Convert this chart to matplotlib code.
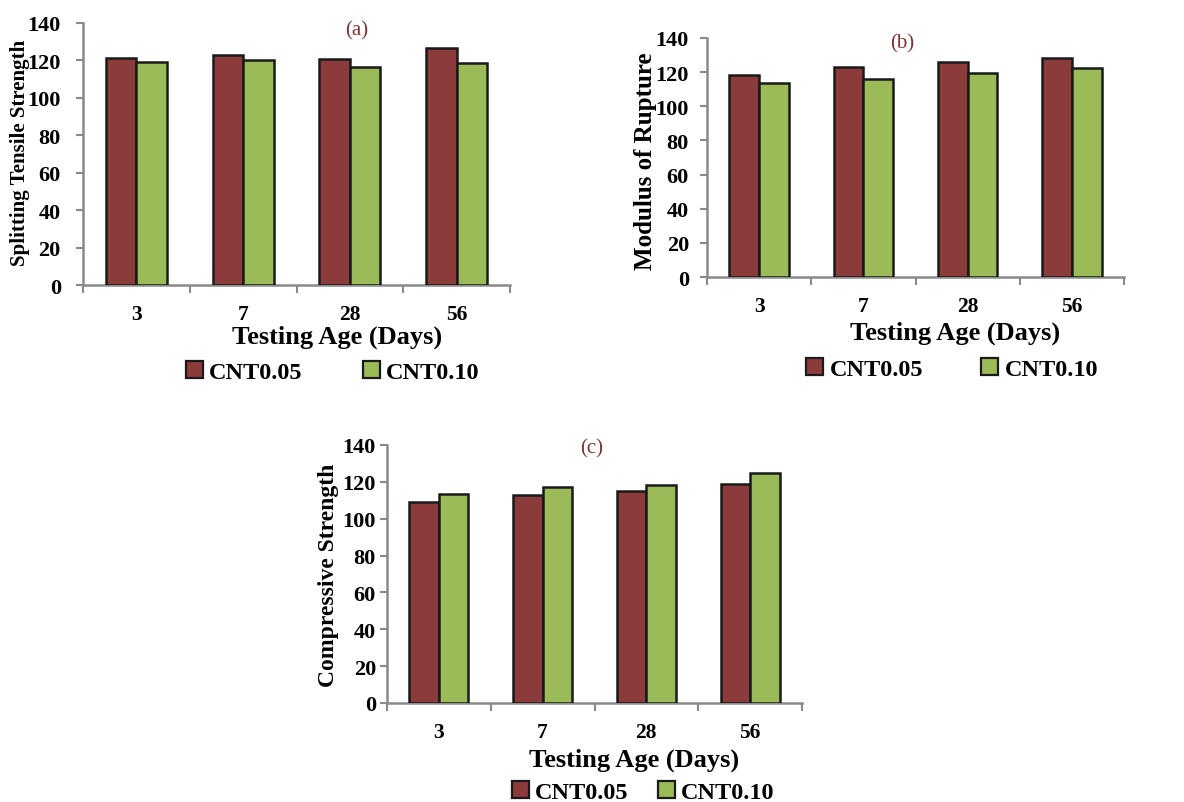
import matplotlib
matplotlib.use('Agg')
import matplotlib.pyplot as plt
import numpy as np

plt.rcParams['font.family'] = ['Liberation Serif', 'DejaVu Serif']

ages = ['3', '7', '28', '56']
series_names = ['CNT0.05', 'CNT0.10']

# (a) splitting tensile strength
split_005 = [121.2, 122.9, 120.8, 126.5]
split_010 = [119.4, 120.1, 116.3, 118.5]
# (b) modulus of rupture
mor_005 = [118.5, 123.2, 125.9, 128.3]
mor_010 = [113.8, 116.2, 119.3, 122.4]
# (c) compressive strength
comp_005 = [108.9, 112.9, 115.2, 118.8]
comp_010 = [113.6, 117.2, 118.5, 124.8]

RED = '#8c3b3b'
GREEN = '#9bbb59'
AXIS_GRAY = '#8a8a8a'
LABEL_COL = '#7a3535'

fig = plt.figure(figsize=(11.84, 8.03), dpi=100)

W, H = 1184, 803


def px_axes(left, top, right, bottom):
    return fig.add_axes([left / W, (H - bottom) / H, (right - left) / W, (bottom - top) / H])


def panel(ax, v1, v2, ylabel, ylab_size, ypad, tag, tag_xy, ylab_xy, xlab_y, leg_xy, colsp):
    x = np.arange(len(ages))
    w = 0.285
    ax.bar(x - w / 2, v1, w, color=RED, edgecolor='#1a1a1a', linewidth=1.8, label=series_names[0], zorder=3)
    ax.bar(x + w / 2, v2, w, color=GREEN, edgecolor='#1a1a1a', linewidth=1.8, label=series_names[1], zorder=3)
    ax.set_xlim(-0.5, len(ages) - 0.5)
    ax.set_ylim(0, 140)
    ax.set_yticks(np.arange(0, 141, 20))
    ax.set_xticks(x)
    ax.set_xticklabels(ages)
    ax.set_xticks(np.arange(-0.5, len(ages), 1.0), minor=True)
    ax.tick_params(axis='x', which='major', length=0, pad=13.5, labelsize=15.5)
    ax.tick_params(axis='x', which='minor', length=6, width=1.5, color=AXIS_GRAY, direction='out')
    ax.tick_params(axis='y', length=5, width=1.5, color=AXIS_GRAY, direction='out', pad=ypad, labelsize=16)
    for lab in ax.get_xticklabels() + ax.get_yticklabels():
        lab.set_fontweight('bold')
    for s in ['top', 'right']:
        ax.spines[s].set_visible(False)
    for s in ['left', 'bottom']:
        ax.spines[s].set_color(AXIS_GRAY)
        ax.spines[s].set_linewidth(1.8)

    ax.set_ylabel(ylabel, fontsize=ylab_size, fontweight='bold')
    ax.yaxis.set_label_coords(*ylab_xy)
    ax.yaxis.label.set_va('center')
    ax.set_xlabel('Testing Age (Days)', fontsize=19, fontweight='bold')
    ax.xaxis.set_label_coords(0.595, xlab_y)
    ax.xaxis.label.set_va('center')

    ax.text(tag_xy[0], tag_xy[1], tag, transform=ax.transAxes, ha='center', va='center',
            fontsize=15, color=LABEL_COL)

    ax.legend(loc='center', bbox_to_anchor=leg_xy, ncol=2, frameon=False,
              prop={'size': 17.5, 'weight': 'bold'}, handlelength=0.7, handleheight=0.7,
              handletextpad=0.25, columnspacing=colsp, borderpad=0)
    for h in ax.get_legend().legend_handles:
        h.set_linewidth(1.6)


ax_a = px_axes(83, 24, 510, 286)
panel(ax_a, split_005, split_010, 'Splitting Tensile Strength', 15, 11, '(a)', (0.64, 0.975),
      (-0.148, 0.51), -51 / 262, (0.585, -87 / 262), 2.5)

ax_b = px_axes(707, 39, 1124, 278)
panel(ax_b, mor_005, mor_010, 'Modulus of Rupture', 18, 8, '(b)', (0.468, 0.98),
      (-0.148, 0.49), -55 / 239, (0.588, -92 / 239), 2.4)

ax_c = px_axes(387, 446, 802, 704)
panel(ax_c, comp_005, comp_010, 'Compressive Strength', 17, 3, '(c)', (0.494, 0.99),
      (-0.14, 0.5), -56 / 258, (0.617, -89 / 258), 1.2)

fig.savefig('out.png', dpi=100)
